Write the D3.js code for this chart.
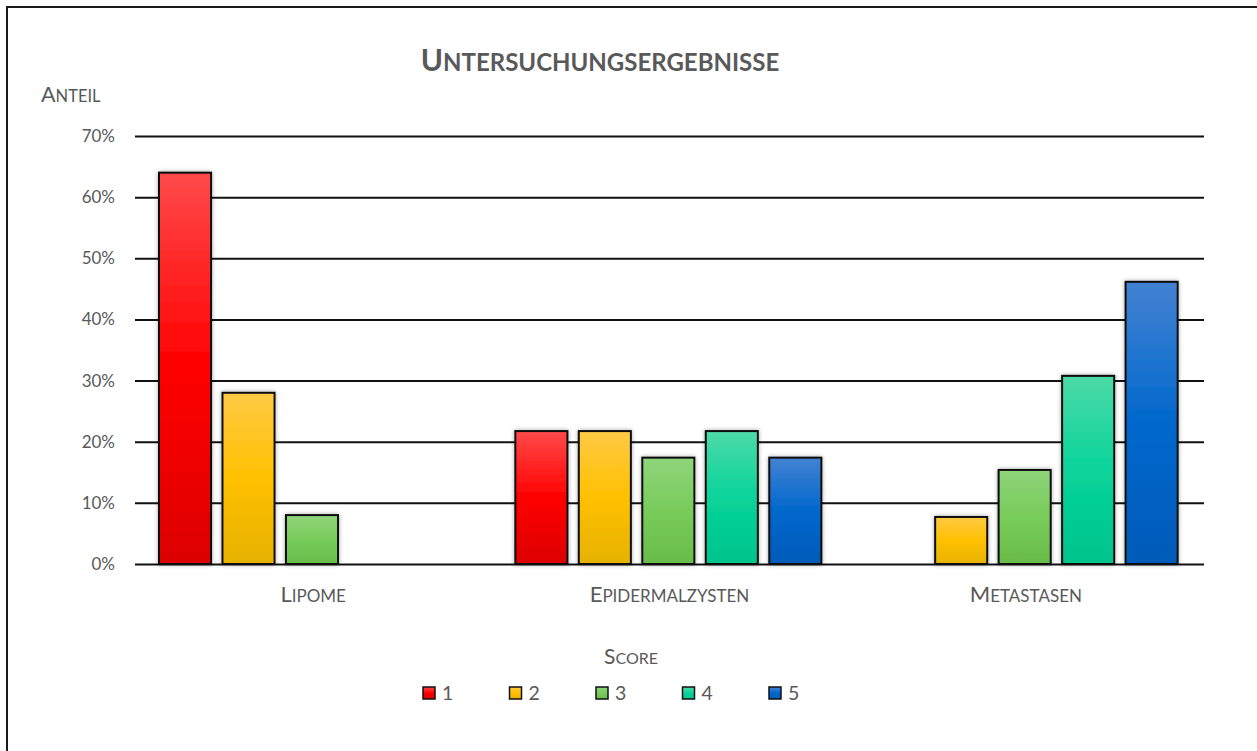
<!DOCTYPE html>
<html>
<head>
<meta charset="utf-8">
<script src="https://cdn.jsdelivr.net/npm/d3@7"></script>
<style>
  html, body { margin: 0; padding: 0; background: #fff; }
  svg { display: block; font-family: Lato, "Open Sans", sans-serif; }
</style>
</head>
<body>
<svg id="chart" width="1257" height="751"></svg>
<script>
// ---- data ----
const categories = ["Lipome", "Epidermalzysten", "Metastasen"];
const scores = ["1", "2", "3", "4", "5"];
const values1 = [0.64, 0.2174, 0.0];
const values2 = [0.28, 0.2174, 0.0769];
const values3 = [0.08, 0.1739, 0.1538];
const values4 = [0.0, 0.2174, 0.3077];
const values5 = [0.0, 0.1739, 0.4615];
const yTicks = [0, 0.1, 0.2, 0.3, 0.4, 0.5, 0.6, 0.7];
const seriesValues = [values1, values2, values3, values4, values5];

// gradient colours per series: [top, middle, bottom]
const gradColors = [
  ["#ff4a4a", "#ff0000", "#dc0000"],
  ["#ffca45", "#ffc000", "#e6b200"],
  ["#8fd47a", "#78cc5a", "#68bc48"],
  ["#4edaa8", "#08d49a", "#00c48c"],
  ["#4482d2", "#0068cc", "#005ab8"]
];

const svg = d3.select("#chart");
const margin = {left: 135, right: 1204, top: 136, bottom: 564};

// outer border (only top/left visible)
svg.append("rect").attr("x", 7).attr("y", 7).attr("width", 1400).attr("height", 900)
  .attr("fill", "none").attr("stroke", "#1a1a1a").attr("stroke-width", 2);

const defs = svg.append("defs");
const filt = defs.append("filter").attr("id", "shadow")
  .attr("x", "-30%").attr("y", "-30%").attr("width", "160%").attr("height", "160%");
filt.append("feDropShadow").attr("dx", 0).attr("dy", 0).attr("stdDeviation", 2.2)
  .attr("flood-color", "#000").attr("flood-opacity", 0.35);

gradColors.forEach((c, i) => {
  const g = defs.append("linearGradient").attr("id", "grad" + i)
    .attr("x1", 0).attr("y1", 0).attr("x2", 0).attr("y2", 1);
  g.append("stop").attr("offset", "0%").attr("stop-color", c[0]);
  g.append("stop").attr("offset", "50%").attr("stop-color", c[1]);
  g.append("stop").attr("offset", "100%").attr("stop-color", c[2]);
});

// scales
const y = d3.scaleLinear().domain([0, 0.7]).range([margin.bottom, margin.top]);
const x0 = d3.scaleBand().domain(categories).range([margin.left, margin.right]).padding(0);
const x1 = d3.scaleBand().domain(scores)
  .range([24, 330]).paddingInner(0.18).paddingOuter(0);

// small caps helper
function smallCaps(sel, word, big, small) {
  sel.append("tspan").attr("font-size", big).text(word[0].toUpperCase());
  sel.append("tspan").attr("font-size", small).text(word.slice(1).toUpperCase());
  return sel;
}

// gridlines + y tick labels
const yAxis = d3.axisLeft(y).tickValues(yTicks).tickFormat(d3.format(".0%"))
  .tickSize(-(margin.right - margin.left)).tickPadding(20);
const ga = svg.append("g").attr("transform", `translate(${margin.left},0)`).call(yAxis);
ga.select(".domain").remove();
ga.selectAll(".tick line").attr("stroke", "#111").attr("stroke-width", 2);
ga.selectAll(".tick text").attr("fill", "#595959").attr("font-size", 17)
  .attr("font-family", "Lato, sans-serif");

// bars
const groups = svg.append("g").selectAll("g").data(categories).join("g")
  .attr("transform", d => `translate(${x0(d)},0)`);
groups.selectAll("rect")
  .data((c, ci) => scores.map((s, si) => ({s, si, v: seriesValues[si][ci]})))
  .join("rect")
  .attr("x", d => x1(d.s))
  .attr("width", x1.bandwidth())
  .attr("y", d => y(d.v) - (d.v > 0 ? 0 : 1))
  .attr("height", d => y(0) - y(d.v))
  .attr("fill", d => `url(#grad${d.si})`)
  .attr("stroke", d => d.v > 0 ? "#111" : "#c8c8c8")
  .attr("stroke-width", d => d.v > 0 ? 2 : 1.2)
  .attr("filter", d => d.v > 0 ? "url(#shadow)" : null);

// category labels
categories.forEach(c => {
  const t = svg.append("text").attr("x", x0(c) + x0.bandwidth() / 2).attr("y", 602)
    .attr("text-anchor", "middle").attr("fill", "#595959");
  smallCaps(t, c, 22, 17);
});

// title
const title = svg.append("text").attr("x", 600).attr("y", 71).attr("text-anchor", "middle")
  .attr("fill", "#595959").attr("font-weight", "bold");
smallCaps(title, "Untersuchungsergebnisse", 30, 24);

// y axis title
const yt = svg.append("text").attr("x", 41).attr("y", 102).attr("fill", "#595959");
smallCaps(yt, "Anteil", 21.5, 16.5);

// legend title
const lt = svg.append("text").attr("x", 631).attr("y", 664).attr("text-anchor", "middle")
  .attr("fill", "#595959");
smallCaps(lt, "Score", 21, 16);

// legend
const lg = svg.append("g").selectAll("g").data(scores).join("g")
  .attr("transform", (d, i) => `translate(${423 + i * 86.5},687)`);
lg.append("rect").attr("width", 12).attr("height", 12)
  .attr("fill", (d, i) => `url(#grad${i})`).attr("stroke", "#111").attr("stroke-width", 1.5);
lg.append("text").attr("x", 19).attr("y", 12.5).attr("fill", "#595959")
  .attr("font-size", 19.5).text(d => d);
</script>
</body>
</html>
